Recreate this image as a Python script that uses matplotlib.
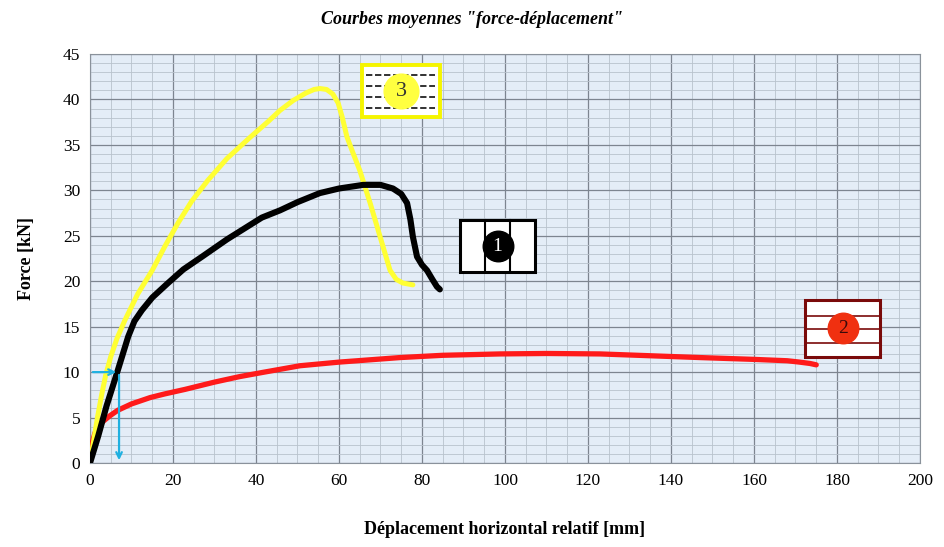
import numpy as np
import matplotlib.pyplot as plt
from matplotlib.patches import Rectangle

# courbe 3 (jaune)
x3 = [0, 0.8, 1.8, 2.8, 3.8, 5, 6.5, 8.4, 11.5, 15, 18, 21.2, 24.5, 28.4, 33, 38.5, 43, 45.8, 49, 52, 54, 55.4, 57, 58.5, 59.8, 60.8, 61.9, 63.3, 65, 67.5, 69.9, 72.3, 73.8, 75.4, 77.8]
y3 = [0, 2.2, 5, 7.5, 9.7, 11.7, 13.7, 15.7, 18.6, 21.2, 23.8, 26.4, 28.8, 31.1, 33.5, 35.8, 37.6, 38.8, 39.9, 40.7, 41.1, 41.2, 41.1, 40.6, 39.6, 38, 35.9, 34.2, 32.2, 28.6, 24.9, 21.2, 20.2, 19.8, 19.6]
# courbe 1 (noire)
x1 = [0, 2, 4, 6.5, 9.2, 10.7, 12.5, 15, 18.8, 22.5, 27, 33, 41.4, 45.8, 50, 55.4, 60, 65.8, 70, 73, 75, 76.4, 77.2, 77.8, 78.8, 80, 81.2, 82.5, 83.6, 84.3]
y1 = [0, 3, 6.3, 9.9, 13.9, 15.6, 16.8, 18.2, 19.8, 21.3, 22.7, 24.6, 27, 27.8, 28.7, 29.7, 30.2, 30.6, 30.6, 30.2, 29.6, 28.6, 26.8, 24.9, 22.7, 21.8, 21.2, 20.2, 19.4, 19.1]
# courbe 2 (rouge)
x2 = [0, 0.3, 0.7, 1.2, 2, 3.2, 4.8, 6.7, 10, 14.5, 18, 22.9, 30, 36, 42, 50.6, 60, 74.7, 85, 98.8, 110, 122.9, 135, 147, 160, 168, 171, 173.5, 175]
y2 = [0, 1.5, 2.5, 3.3, 4.0, 4.6, 5.2, 5.8, 6.5, 7.2, 7.6, 8.1, 8.9, 9.5, 10.0, 10.7, 11.1, 11.6, 11.85, 12.0, 12.05, 12.0, 11.8, 11.6, 11.4, 11.25, 11.1, 10.95, 10.8]

xticks = np.arange(0, 201, 20)
yticks = np.arange(0, 46, 5)

plt.rcParams['font.family'] = ['Liberation Serif', 'DejaVu Serif']

fig = plt.figure(figsize=(9.45, 5.47), dpi=100)
ax = fig.add_axes([90/945, 84/547, 830/945, 409/547])
ax.set_facecolor('#e4edf7')

ax.set_xlim(0, 200)
ax.set_ylim(0, 45)
ax.set_xticks(xticks)
ax.set_yticks(yticks)
ax.set_xticks(np.arange(0, 201, 5), minor=True)
ax.set_yticks(np.arange(0, 46, 1), minor=True)
ax.grid(which='major', color='#7d8590', lw=0.9)
ax.grid(which='minor', color='#b8c2cc', lw=0.6)
ax.tick_params(which='both', length=0, labelsize=12.5, pad=7)
for s in ax.spines.values():
    s.set_color('#8a929b')

ax.plot(x2, y2, color='#ff1a1a', lw=3.8, solid_capstyle='round', solid_joinstyle='round', zorder=3)
ax.plot(x3, y3, color='#ffff33', lw=3.6, solid_capstyle='round', solid_joinstyle='round', zorder=4)
ax.plot(x1, y1, color='black', lw=4.4, solid_capstyle='round', solid_joinstyle='round', zorder=5)

# fleches cyan
ax.annotate('', xy=(7, 10), xytext=(0, 10),
            arrowprops=dict(arrowstyle='->', color='#20b0e0', lw=1.6), zorder=6)
ax.annotate('', xy=(7, 0), xytext=(7, 10),
            arrowprops=dict(arrowstyle='->', color='#20b0e0', lw=1.6), zorder=6)

# icone 3
ax.add_patch(Rectangle((65.5, 38.1), 18.8, 5.7, fc='white', ec='#f5f500', lw=2.8, zorder=6))
for yy in [39.1, 40.3, 41.5, 42.7]:
    ax.plot([66.6, 83.2], [yy, yy], color='#222222', lw=1.3, ls=(0, (3.5, 1.5)), zorder=7)
ax.plot([75], [40.95], 'o', ms=25, color='#ffff40', zorder=8)
ax.text(75, 40.9, '3', ha='center', va='center', fontsize=16, color='#333333', zorder=9)

# icone 1
ax.add_patch(Rectangle((89.2, 21), 18, 5.7, fc='white', ec='black', lw=2.2, zorder=6))
for xx in [95.2, 101.2]:
    ax.plot([xx, xx], [21, 26.7], color='black', lw=1.5, zorder=7)
ax.plot([98.2], [23.85], 'o', ms=22, color='black', zorder=8)
ax.text(98.2, 23.8, '1', ha='center', va='center', fontsize=14, color='white', zorder=9)

# icone 2
ax.add_patch(Rectangle((172.3, 11.7), 18.1, 6.2, fc='white', ec='#7a0a0a', lw=2.2, zorder=6))
for yy in [13.2, 14.7, 16.2]:
    ax.plot([172.3, 190.4], [yy, yy], color='#7a0a0a', lw=1.2, zorder=7)
ax.plot([181.5], [14.8], 'o', ms=22, color='#f03010', zorder=8)
ax.text(181.5, 14.75, '2', ha='center', va='center', fontsize=14, color='#3a0a0a', zorder=9)

ax.set_xlabel('Déplacement horizontal relatif [mm]', fontsize=13, fontweight='bold', labelpad=23)
ax.set_ylabel('Force [kN]', fontsize=13, fontweight='bold', labelpad=20)
fig.text(0.5, 0.965, 'Courbes moyennes "force-déplacement"', ha='center', va='center',
         fontsize=13, fontweight='bold', style='italic')

fig.savefig('out.png', dpi=100)
